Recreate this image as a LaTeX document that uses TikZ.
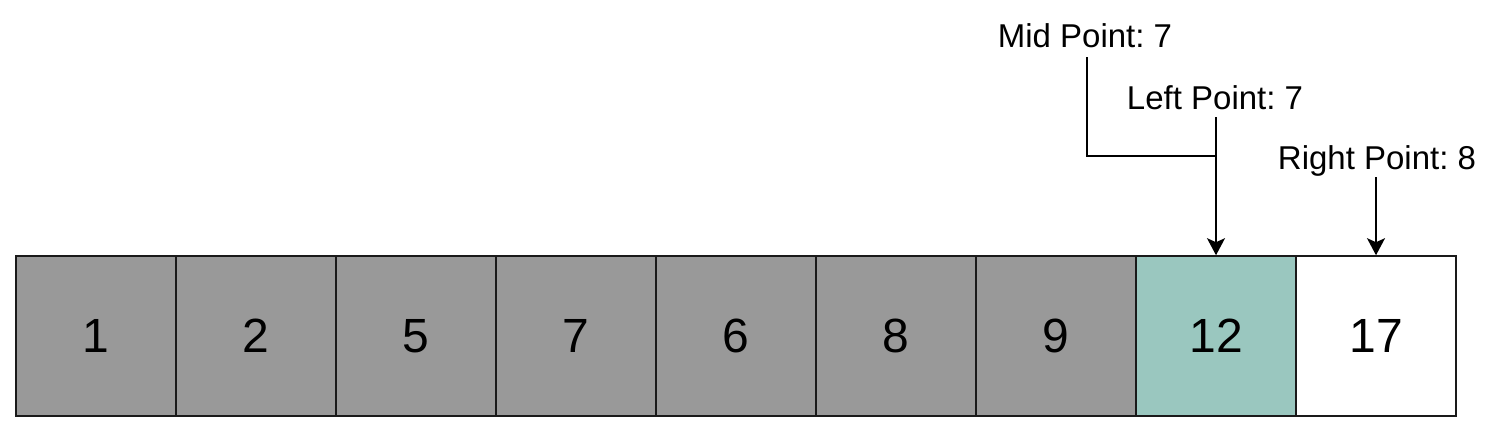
\documentclass[tikz,border=0pt]{standalone}
\usepackage{fontspec}
\setmainfont{Liberation Sans}
\usetikzlibrary{arrows.meta,calc}
\definecolor{cellgray}{HTML}{999999}
\definecolor{cellteal}{HTML}{9AC7BF}
\definecolor{edge}{HTML}{1A1A1A}
\frenchspacing
\begin{document}
\begin{tikzpicture}[x=1pt,y=-1pt,
  cell/.style={draw=edge, line width=1.6pt, minimum width=160pt, minimum height=160pt, inner sep=0pt,
     font=\fontsize{48}{56}\selectfont},
  lbl/.style={inner sep=0pt, anchor=base, font=\fontsize{33}{39}\selectfont},
  pointer/.style={draw=black, line width=1.6pt},
  tip/.style={-{Stealth[length=17pt,width=18pt,inset=4pt]}}]
\useasboundingbox (0,0) rectangle (1504,434);
\foreach \v [count=\i from 0] in {1,2,5,7,6,8,9}{
  \node[cell, fill=cellgray] (b\i) at (96+160*\i,336) {\v};
}
\node[cell, fill=cellteal] (b7) at (1216,336) {12};
\node[cell, fill=white] (b8) at (1376,336) {17};
\node[lbl] (mid) at (1085,47) {Mid Point: 7};
\node[lbl] (left) at (1215,109) {Left Point: 7};
\node[lbl] (right) at (1377,169) {Right Point: 8};
\coordinate (mstart) at ($(mid.base)+(2,10)$);
\coordinate (join) at (1216,156);
\draw[pointer] (mstart) |- (join);
\draw[pointer, tip] ($(left.base)+(1,8)$) -- (b7.north);
\draw[pointer, tip] ($(right.base)+(-1,8)$) -- (b8.north);
\end{tikzpicture}
\end{document}
